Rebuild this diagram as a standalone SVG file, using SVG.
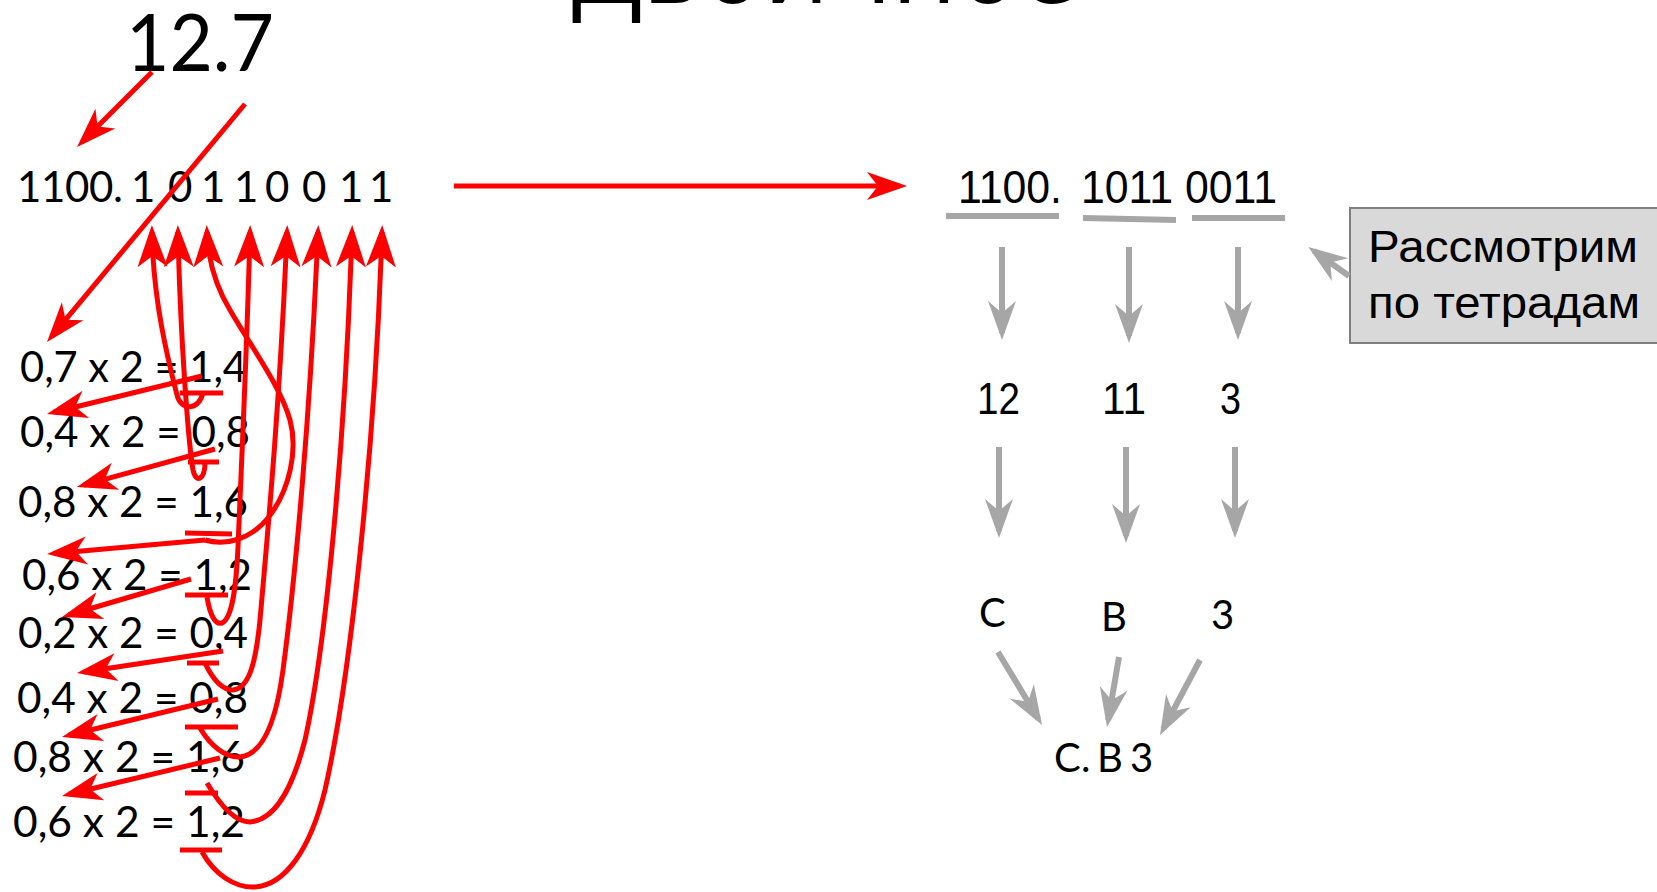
<svg xmlns="http://www.w3.org/2000/svg" width="1657" height="892" viewBox="0 0 1657 892">
<style>
.cal{font-family:Lato,"Open Sans","Noto Sans",sans-serif;fill:#000}
.nar{font-family:"Liberation Sans Narrow","Liberation Sans",Arial,sans-serif;fill:#000}
.ttl{font-family:"Open Sans","Noto Sans","DejaVu Sans",sans-serif;fill:#000}
.r{fill:none;stroke:#ff0000;stroke-width:5}
.g{fill:none;stroke:#a6a6a6;stroke-width:6}
.ul{stroke:#ff0000;stroke-width:5}
.gu{stroke:#a6a6a6;stroke-width:6}
</style>
<defs>
<marker id="hr" markerUnits="userSpaceOnUse" orient="auto" overflow="visible" markerWidth="1" markerHeight="1" refX="0" refY="0"><path d="M7,0 L-33,-14 L-22,0 L-33,14 Z" fill="#ff0000"/></marker>
<marker id="hu" markerUnits="userSpaceOnUse" orient="auto" overflow="visible" markerWidth="1" markerHeight="1" refX="0" refY="0"><path d="M7,0 L-35,-15 L-24,0 L-35,15 Z" fill="#ff0000"/></marker>
<marker id="hg" markerUnits="userSpaceOnUse" orient="auto" overflow="visible" markerWidth="1" markerHeight="1" refX="0" refY="0"><path d="M7,0 L-32,-14 L-20,0 L-32,14 Z" fill="#a6a6a6"/></marker>
</defs>
<rect width="1657" height="892" fill="#fff"/>

<g id="title"><text class="ttl" x="572" y="3" font-size="108" textLength="505" lengthAdjust="spacingAndGlyphs">Двоичное</text></g>

<g id="n-number"><text class="cal" x="126" y="71" font-size="80" textLength="148" lengthAdjust="spacingAndGlyphs">12.7</text></g>

<g id="n-binary-left"><text class="cal" font-size="42" y="202" x="17 41 65 89 113 131 151 168 188 201 221 234 254 265 285 302 322 339 359 369">1100.1 0 1 1 0 0 1 1</text></g>

<g id="n-rows" class="cal" font-size="42">
<text x="20" y="382" textLength="227" lengthAdjust="spacingAndGlyphs">0,7 x 2 = 1,4</text>
<text x="20" y="447" textLength="230" lengthAdjust="spacingAndGlyphs">0,4 x 2 = 0,8</text>
<text x="18" y="517" textLength="230" lengthAdjust="spacingAndGlyphs">0,8 x 2 = 1,6</text>
<text x="22" y="590" textLength="230" lengthAdjust="spacingAndGlyphs">0,6 x 2 = 1,2</text>
<text x="18" y="648" textLength="230" lengthAdjust="spacingAndGlyphs">0,2 x 2 = 0,4</text>
<text x="17" y="713" textLength="231" lengthAdjust="spacingAndGlyphs">0,4 x 2 = 0,8</text>
<text x="13" y="772" textLength="232" lengthAdjust="spacingAndGlyphs">0,8 x 2 = 1,6</text>
<text x="13" y="837" textLength="232" lengthAdjust="spacingAndGlyphs">0,6 x 2 = 1,2</text>
</g>

<g id="n-binary-right" class="nar" font-size="46">
<text x="958" y="203" textLength="104" lengthAdjust="spacingAndGlyphs">1100.</text>
<text x="1081" y="203" textLength="92" lengthAdjust="spacingAndGlyphs">1011</text>
<text x="1185" y="203" textLength="92" lengthAdjust="spacingAndGlyphs">0011</text>
</g>

<g id="n-decimal" class="nar" font-size="44">
<text x="977" y="414" textLength="43" lengthAdjust="spacingAndGlyphs">12</text>
<text x="1102" y="414" textLength="44" lengthAdjust="spacingAndGlyphs">11</text>
<text x="1220" y="414" textLength="21" lengthAdjust="spacingAndGlyphs">3</text>
</g>

<g id="n-hex" class="cal" font-size="40">
<text x="979" y="627">C</text>
<text x="1101" y="631">B</text>
<text x="1211" y="629">3</text>
</g>

<g id="n-result"><text class="cal" font-size="40" x="1054 1081 1097 1120 1130" y="772">C.B 3</text></g>

<g id="n-note">
<rect x="1350" y="208" width="320" height="135" fill="#d9d9d9" stroke="#7f7f7f" stroke-width="2"/>
<text class="nar" font-size="45" x="1368" y="262" textLength="270" lengthAdjust="spacingAndGlyphs">Рассмотрим</text>
<text class="nar" font-size="45" x="1368" y="318" textLength="272" lengthAdjust="spacingAndGlyphs">по тетрадам</text>
</g>

<g id="connectors">
<g id="underlines-red">
<line class="ul" x1="180" y1="393" x2="223" y2="393"/>
<line class="ul" x1="188" y1="462" x2="219" y2="462"/>
<line class="ul" x1="185" y1="533" x2="232" y2="534"/>
<line class="ul" x1="185" y1="595" x2="228" y2="595"/>
<line class="ul" x1="187" y1="663" x2="219" y2="663"/>
<line class="ul" x1="185" y1="727" x2="238" y2="727"/>
<line class="ul" x1="185" y1="793" x2="218" y2="793"/>
<line class="ul" x1="180" y1="850" x2="222" y2="850"/>
</g>
<g id="underlines-gray">
<line class="gu" x1="946" y1="216" x2="1059" y2="216"/>
<line class="gu" x1="1083" y1="218" x2="1176" y2="220"/>
<line class="gu" x1="1192" y1="218" x2="1285" y2="218"/>
</g>
<path class="r" marker-end="url(#hr)" d="M152,72 L82,142"/>
<path class="r" marker-end="url(#hr)" d="M245,104 L51.5,336.6"/>
<path class="r" marker-end="url(#hr)" d="M202,376 L53.8,412.3"/>
<path class="r" marker-end="url(#hr)" d="M215,449 L83.7,485.1"/>
<path class="r" marker-end="url(#hr)" d="M205,540 L54,553.4"/>
<path class="r" marker-end="url(#hr)" d="M191,579 L68.7,615"/>
<path class="r" marker-end="url(#hr)" d="M223,651 L83.9,672"/>
<path class="r" marker-end="url(#hr)" d="M218,699 L68.8,735.3"/>
<path class="r" marker-end="url(#hr)" d="M220,758 L68.8,794.3"/>
<path class="r" marker-end="url(#hr)" d="M454,186 L900,186"/>

<path class="r" marker-end="url(#hu)" d="M203,392 C200,410 181,412 177,395 C168,360 153,300 152,232"/>
<path class="r" marker-end="url(#hu)" d="M205,462 C205,480 196,484 193,470 C188,440 180,330 178,232"/>
<path class="r" marker-end="url(#hu)" d="M205,540 C225,546 250,540 268,518 C290,490 298,450 290,420 C280,385 250,345 230,310 C215,285 208,260 207,232"/>
<path class="r" marker-end="url(#hu)" d="M207,597 C210,615 215,625 222,623 C232,618 236,590 238,547 C242,450 247,350 250,232"/>
<path class="r" marker-end="url(#hu)" d="M205,663 C212,678 222,690 233,690 C250,688 256,660 260,620 C268,530 280,400 287,232"/>
<path class="r" marker-end="url(#hu)" d="M200,728 C210,745 225,758 240,757 C260,755 275,730 283,670 C295,580 310,420 318,232"/>
<path class="r" marker-end="url(#hu)" d="M207,783 C220,805 235,822 250,822 C275,820 292,790 305,740 C325,650 345,450 352,232"/>
<path class="r" marker-end="url(#hu)" d="M202,852 C215,875 235,888 255,887 C285,885 310,850 325,790 C350,680 375,450 382,232"/>

<path class="g" marker-end="url(#hg)" d="M1002,247 L1002,333"/>
<path class="g" marker-end="url(#hg)" d="M1129,247 L1129,336"/>
<path class="g" marker-end="url(#hg)" d="M1238,247 L1238,333"/>
<path class="g" marker-end="url(#hg)" d="M999,447 L999,531"/>
<path class="g" marker-end="url(#hg)" d="M1126,447 L1126,536"/>
<path class="g" marker-end="url(#hg)" d="M1235,447 L1235,531"/>
<path class="g" marker-end="url(#hg)" d="M998,652 L1038.4,719"/>
<path class="g" marker-end="url(#hg)" d="M1119,657 L1108.2,720"/>
<path class="g" marker-end="url(#hg)" d="M1200,660 L1163.3,728.8"/>
<path class="g" marker-end="url(#hg)" d="M1349,276 L1314,251"/>
</g>
</svg>
